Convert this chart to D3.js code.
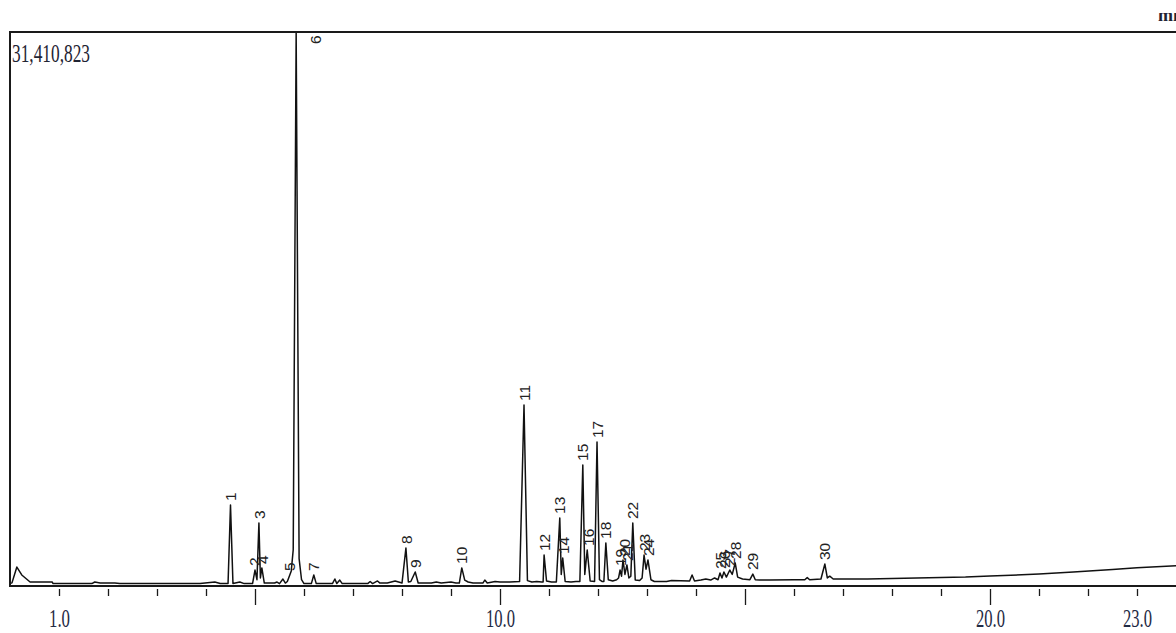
<!DOCTYPE html>
<html>
<head>
<meta charset="utf-8">
<script src="https://cdn.jsdelivr.net/npm/d3@7"></script>
<style>
  body { margin: 0; background: #fff; overflow: hidden; }
</style>
</head>
<body>
<div id="wrapper"></div>
<script>
// retention time (min) and detector signal (counts)
const traceTime = [
  0.00, 0.04, 0.14, 0.24, 0.41, 0.86, 0.88, 1.67, 1.73, 1.84, 2.14, 2.24, 3.88, 4.18, 4.29,
  4.45, 4.50, 4.55, 4.69, 4.78,
  4.95, 5.00, 5.04, 5.08, 5.11, 5.14, 5.19, 5.40, 5.45, 5.50, 5.57, 5.62,
  5.66, 5.71, 5.74, 5.78, 5.84, 5.90, 5.95, 6.00,
  6.15, 6.20, 6.25, 6.58, 6.63, 6.67, 6.73, 6.78, 7.30, 7.35, 7.40, 7.50, 7.55, 7.70, 7.86,
  8.00, 8.08, 8.13, 8.18, 8.27, 8.33, 8.60, 8.70, 8.80, 9.00, 9.10,
  9.17, 9.22, 9.28, 9.35, 9.45, 9.65, 9.69, 9.74, 9.90, 10.00, 10.20,
  10.40, 10.49, 10.56, 10.65, 10.75, 10.85,
  10.88, 10.90, 10.95, 11.05,
  11.15, 11.22, 11.25, 11.28, 11.33, 11.45, 11.55,
  11.63, 11.69, 11.73, 11.78, 11.84,
  11.93, 11.98, 12.03, 12.08,
  12.12, 12.16, 12.21, 12.30, 12.38,
  12.42, 12.45, 12.48, 12.51, 12.55, 12.59, 12.63, 12.67, 12.71, 12.76, 12.85,
  12.90, 12.94, 12.98, 13.02, 13.08, 13.15, 13.40, 13.50, 13.87, 13.92, 13.97,
  14.10, 14.20, 14.30, 14.38,
  14.45, 14.49, 14.53, 14.57, 14.62, 14.69, 14.74, 14.80, 14.85, 14.95,
  15.10, 15.16, 15.21, 15.30, 15.50, 16.00, 16.22, 16.27, 16.32, 16.55,
  16.63, 16.68, 16.73, 16.80, 17.50, 18.50, 19.50, 20.00, 21.00, 21.70, 22.50, 23.00, 23.80, 24.00
];
const traceSignal = [
  80000, 120000, 1020000, 570000, 170000, 170000, 80000, 80000, 170000, 110000, 110000, 80000, 80000, 170000, 80000,
  80000, 4540000, 80000, 170000, 80000,
  80000, 850000, 300000, 3520000, 400000, 970000, 110000, 110000, 170000, 80000, 340000, 110000,
  200000, 570000, 800000, 2000000, 31410823, 1500000, 300000, 80000,
  80000, 570000, 80000, 80000, 340000, 80000, 280000, 80000, 80000, 200000, 80000, 230000, 110000, 110000, 230000,
  110000, 2100000, 170000, 200000, 740000, 110000, 110000, 170000, 110000, 170000, 110000,
  110000, 970000, 280000, 170000, 110000, 110000, 280000, 110000, 200000, 170000, 170000,
  200000, 10220000, 250000, 170000, 200000, 170000,
  170000, 1700000, 230000, 170000,
  170000, 3810000, 600000, 1530000, 200000, 170000, 200000,
  200000, 6820000, 600000, 1990000, 230000,
  200000, 8120000, 300000, 200000,
  200000, 2390000, 300000, 230000, 300000,
  400000, 850000, 500000, 1420000, 600000, 1140000, 400000, 500000, 3520000, 280000, 250000,
  400000, 1700000, 900000, 1420000, 300000, 200000, 200000, 250000, 230000, 570000, 230000,
  280000, 340000, 280000, 400000,
  300000, 680000, 400000, 740000, 450000, 850000, 600000, 1250000, 450000, 340000,
  300000, 620000, 300000, 280000, 280000, 300000, 300000, 420000, 300000, 340000,
  1190000, 400000, 500000, 340000, 340000, 400000, 450000, 510000, 620000, 740000, 880000, 980000, 1100000, 1130000
];

// numbered peaks: label, apex time (min), apex signal (counts)
const peakLabels = ["1", "2", "3", "4", "5", "6", "7", "8", "9", "10",
  "11", "12", "13", "14", "15", "16", "17", "18", "19", "20",
  "21", "22", "23", "24", "25", "26", "27", "28", "29", "30"];
const peakTimes = [4.50, 4.98, 5.08, 5.16, 5.71, 5.84, 6.20, 8.08, 8.27, 9.22,
  10.49, 10.90, 11.22, 11.30, 11.69, 11.80, 11.98, 12.16, 12.45, 12.53,
  12.61, 12.71, 12.94, 13.03, 14.49, 14.58, 14.69, 14.80, 15.16, 16.63];
const peakHeights = [4540000, 850000, 3520000, 970000, 570000, 31410823, 570000, 2100000, 740000, 970000,
  10220000, 1700000, 3810000, 1530000, 6820000, 1990000, 8120000, 2390000, 850000, 1420000,
  1140000, 3520000, 1700000, 1420000, 680000, 740000, 850000, 1250000, 620000, 1190000];

const maxSignal = 31410823;
const minorTicks = d3.range(1, 24);
const majorTicks = [5, 10, 15, 20];
const labelTicks = [1, 10, 20, 23];

function drawChromatogram() {

    const dimensions = {
        width: 1176,
        height: 633,
        left: 10,
        top: 32,
        bottom: 586,
        pxPerMin: 49,
    }

    const svg = d3.select("#wrapper")
        .html("")
        .append("svg")
        .attr("width", dimensions.width)
        .attr("height", dimensions.height)

    const xScaler = d3.scaleLinear()
        .domain([0, 24])
        .range([dimensions.left, dimensions.left + 24 * dimensions.pxPerMin])

    const yScaler = d3.scaleLinear()
        .domain([0, maxSignal])
        .range([dimensions.bottom - 1, dimensions.top])

    svg.append("defs").append("clipPath")
        .attr("id", "plotClip")
        .append("rect")
        .attr("x", dimensions.left)
        .attr("y", dimensions.top)
        .attr("width", dimensions.width)
        .attr("height", dimensions.bottom - dimensions.top)

    svg.append("defs").append("clipPath")
        .attr("id", "unitClip")
        .append("rect")
        .attr("x", 1100)
        .attr("y", 13)
        .attr("width", 100)
        .attr("height", 20)

    // trace
    const points = traceTime.map((t, i) => [t, traceSignal[i]])
    const lineGen = d3.line()
        .x(d => xScaler(d[0]))
        .y(d => yScaler(d[1]))

    svg.append("path")
        .datum(points)
        .attr("clip-path", "url(#plotClip)")
        .attr("d", lineGen)
        .attr("fill", "none")
        .attr("stroke", "#111")
        .attr("stroke-width", 1.5)
        .attr("stroke-linejoin", "round")

    // frame
    svg.append("rect")
        .attr("x", dimensions.left)
        .attr("y", dimensions.top)
        .attr("width", 1200)
        .attr("height", dimensions.bottom - dimensions.top)
        .attr("fill", "none")
        .attr("stroke", "#1a1a1a")
        .attr("stroke-width", 2)

    // peak numbers
    svg.append("g")
        .attr("clip-path", "url(#plotClip)")
        .selectAll("text")
        .data(peakLabels)
        .join("text")
        .attr("transform", (d, i) => {
            let x = xScaler(peakTimes[i])
            let y = yScaler(peakHeights[i]) - 4
            if (y < dimensions.top + 14) {
                y = dimensions.top + 12
                x += 19
            }
            return `translate(${x},${y}) rotate(-90)`
        })
        .attr("dy", "0.36em")
        .attr("text-anchor", "start")
        .attr("font-family", "Liberation Sans, Arial, sans-serif")
        .attr("font-size", "15.5px")
        .attr("fill", "#222")
        .text(d => d)

    // max intensity
    svg.append("text")
        .attr("x", 12)
        .attr("y", 62)
        .attr("font-family", "Liberation Serif, Times New Roman, serif")
        .attr("font-size", "26px")
        .attr("textLength", 78)
        .attr("lengthAdjust", "spacingAndGlyphs")
        .attr("fill", "#1f2433")
        .text(d3.format(",")(maxSignal))

    // unit, cut off at the top edge of the picture
    svg.append("text")
        .attr("clip-path", "url(#unitClip)")
        .attr("x", 1158)
        .attr("y", 21)
        .attr("font-family", "Liberation Serif, Times New Roman, serif")
        .attr("font-size", "18px")
        .attr("font-weight", "bold")
        .attr("fill", "#1f2433")
        .text("min")

    // time axis
    const xAxisGen = d3.axisBottom(xScaler)
        .tickValues(minorTicks)
        .tickSize(0)
        .tickFormat(d => labelTicks.includes(d) ? d3.format(".1f")(d) : "")

    const xAxis = svg.append("g")
        .attr("transform", `translate(0,${dimensions.bottom + 3})`)
        .call(xAxisGen)

    xAxis.select(".domain").remove()
    xAxis.selectAll(".tick line")
        .attr("y2", d => majorTicks.includes(d) ? 16 : 7)
        .attr("stroke", "#1a1a1a")
        .attr("stroke-width", 1.3)

    xAxis.selectAll(".tick text")
        .attr("y", 38)
        .attr("dy", null)
        .attr("font-family", "Liberation Serif, Times New Roman, serif")
        .attr("font-size", "26px")
        .attr("fill", "#1f2a44")
        .attr("textLength", d => d >= 10 ? 29 : 21)
        .attr("lengthAdjust", "spacingAndGlyphs")
}

drawChromatogram();
</script>
</body>
</html>
